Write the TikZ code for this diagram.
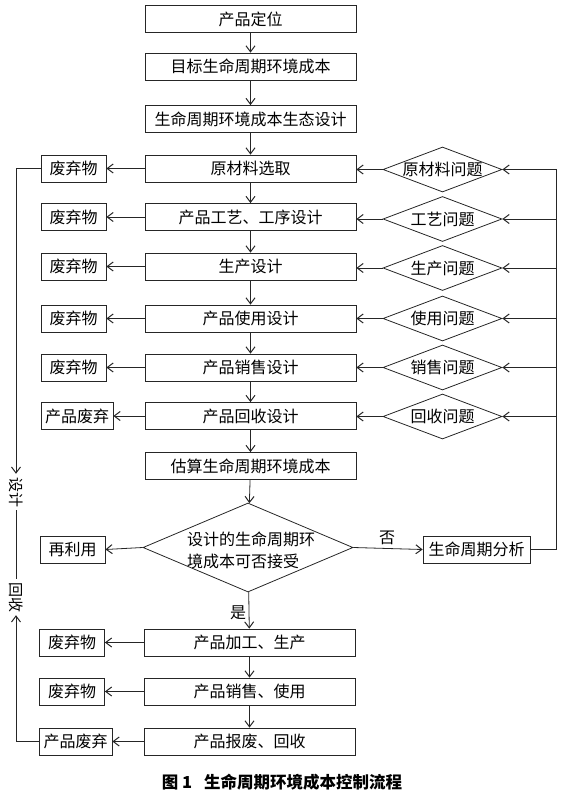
\documentclass[tikz,border=0pt]{standalone}
\usepackage{fontspec}
\setmainfont{Noto Sans CJK SC}
\usetikzlibrary{shapes.geometric,arrows.meta}
\begin{document}
\begin{tikzpicture}[x=1pt,y=-1pt,
  every node/.style={font=\fontsize{16}{18}\selectfont, text=black},
  line/.style={draw=black!85, line width=0.8pt},
  >={Straight Barb[length=6pt,width=9pt,line width=1pt]},
  mainbox/.style={draw=black!85, line width=0.8pt, rectangle, minimum width=211, minimum height=27, inner sep=0pt},
  sidebox/.style={draw=black!85, line width=0.8pt, rectangle, minimum width=65, minimum height=27, inner sep=0pt},
  probd/.style={draw=black!85, line width=0.8pt, diamond, minimum width=119, minimum height=45, inner sep=0pt},
  vlab/.style={rotate=-90, inner sep=3pt, font=\fontsize{15}{15}\selectfont},
  plain/.style={inner sep=0pt}
]
\useasboundingbox (0,0) rectangle (560,792);

% main column
\node[mainbox] (b1) at (250.5,19) {产品定位};
\node[mainbox] (b2) at (250.5,66.5) {目标生命周期环境成本};
\node[mainbox] (b3) at (250.5,119) {生命周期环境成本生态设计};
\node[mainbox] (r1) at (250.5,168.5) {原材料选取};
\node[mainbox] (r2) at (250.5,217) {产品工艺、工序设计};
\node[mainbox] (r3) at (250.5,266.5) {生产设计};
\node[mainbox] (r4) at (250.5,318.5) {产品使用设计};
\node[mainbox] (r5) at (250.5,367.5) {产品销售设计};
\node[mainbox] (r6) at (250.5,416) {产品回收设计};
\node[mainbox] (est) at (250.5,466) {估算生命周期环境成本};
\node[draw=black!85, line width=0.8pt, diamond, minimum width=210, minimum height=89, inner sep=0pt] (dec) at (248,547.5) {};
\node[plain, align=left, font=\fontsize{16}{22}\selectfont] (dect) at (251,550) {设计的生命周期环\\境成本可否接受};
\node[mainbox] (pa) at (249.5,642.5) {产品加工、生产};
\node[mainbox] (pb) at (249.5,691.5) {产品销售、使用};
\node[mainbox] (pc) at (249.5,741.5) {产品报废、回收};

% left side boxes
\node[sidebox] (w1) at (73.5,168.5) {废弃物};
\node[sidebox] (w2) at (73.5,217) {废弃物};
\node[sidebox] (w3) at (73.5,266.5) {废弃物};
\node[sidebox] (w4) at (73.5,318.5) {废弃物};
\node[sidebox] (w5) at (73.5,367.5) {废弃物};
\node[sidebox, minimum width=72] (w6) at (77,416) {产品废弃};
\node[sidebox] (reuse) at (72.5,549.5) {再利用};
\node[sidebox] (wa) at (72,642.5) {废弃物};
\node[sidebox] (wb) at (72,691.5) {废弃物};
\node[sidebox, minimum width=73] (wc) at (75.5,741.5) {产品废弃};

% problem diamonds
\node[probd] (p1) at (442.5,169.5) {};
\node[probd] (p2) at (442.5,219) {};
\node[probd] (p3) at (442.5,268) {};
\node[probd] (p4) at (442.5,318.5) {};
\node[probd] (p5) at (442.5,367.5) {};
\node[probd] (p6) at (442.5,416.5) {};
\node[plain] (t1) at (p1) {原材料问题};
\node[plain] (t2) at (p2) {工艺问题};
\node[plain] (t3) at (p3) {生产问题};
\node[plain] (t4) at (p4) {使用问题};
\node[plain] (t5) at (p5) {销售问题};
\node[plain] (t6) at (p6) {回收问题};

\node[sidebox, minimum width=107] (ana) at (476.5,549.5) {生命周期分析};
\coordinate (rx) at (556,0);

% labels
\node[plain] (yes) at (238,613) {是};
\node[plain] (no) at (387,538) {否};
\node[vlab] (sj) at (16,492) {设计};
\node[vlab] (hs) at (16,597) {回收};

% main flow
\foreach \a/\b in {b1/b2,b2/b3,b3/r1,r1/r2,r2/r3,r3/r4,r4/r5,r5/r6,r6/est,est/dec,dec/pa,pa/pb,pb/pc}
  \draw[line,->] (\a) -- (\b);

% to waste boxes
\foreach \a/\b in {r1/w1,r2/w2,r3/w3,r4/w4,r5/w5,r6/w6,pa/wa,pb/wb,pc/wc}
  \draw[line,->] (\a.west) -- (\b.east);
\draw[line,->] (dec.west) -- (reuse.east);

% problems to rows
\foreach \p/\r in {p1/r1,p2/r2,p3/r3,p4/r4,p5/r5,p6/r6}
  \draw[line,->] (\p.west) -- (\p.west -| \r.east);

% decision no
\draw[line,->] (dec.east) -- (ana.west);
\draw[line,->] (ana.east) -- (ana.east -| rx) |- (p1.east);
\foreach \p in {p2,p3,p4,p5,p6}
  \draw[line,->] (\p.east -| rx) -- (\p.east);

% left loop
\draw[line,->] (w1.west) -| (sj);
\draw[line] (sj) -- (hs);
\draw[line,->] (wc.west) -| (hs);

% caption
\node[plain, font=\fontsize{16.5}{18}\selectfont\bfseries] (cap) at (282,782) {图 1\hspace{12pt}生命周期环境成本控制流程};
\end{tikzpicture}
\end{document}
